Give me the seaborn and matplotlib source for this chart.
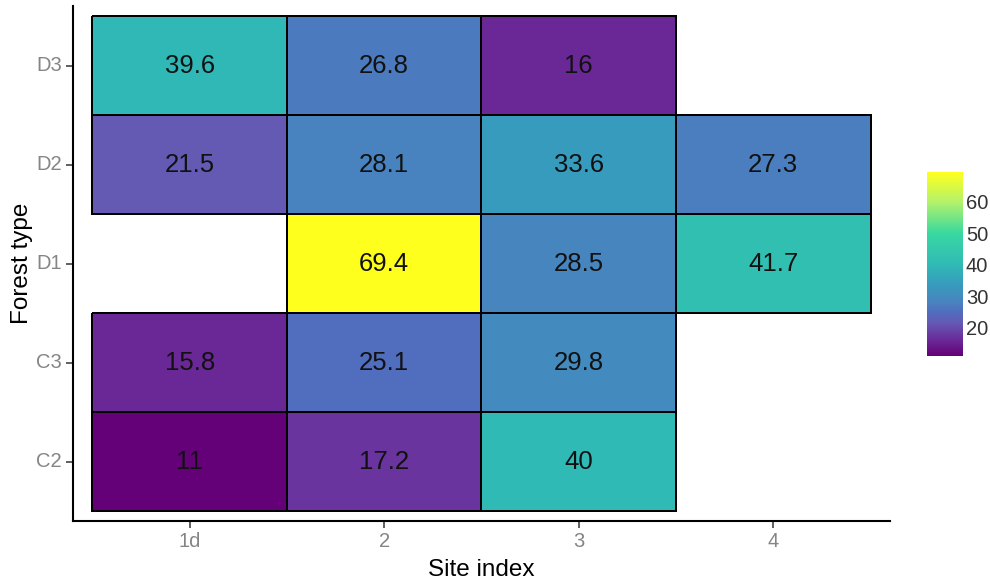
import numpy as np
import pandas as pd
import seaborn as sns
import matplotlib.pyplot as plt
from matplotlib.colors import LinearSegmentedColormap

sns.set_style("white")
plt.rcParams["font.family"] = ["Liberation Sans", "DejaVu Sans"]

# Site index categories (columns) and forest types (rows, top to bottom)
sites = ["1d", "2", "3", "4"]
forest_types = ["D3", "D2", "D1", "C3", "C2"]

# Values per forest type across site index; NaN = no observation
d3 = [39.6, 26.8, 16.0, np.nan]
d2 = [21.5, 28.1, 33.6, 27.3]
d1 = [np.nan, 69.4, 28.5, 41.7]
c3 = [15.8, 25.1, 29.8, np.nan]
c2 = [11.0, 17.2, 40.0, np.nan]

grid = pd.DataFrame([d3, d2, d1, c3, c2], index=forest_types, columns=sites)
labels = grid.map(lambda v: "" if pd.isna(v) else f"{v:g}")
vmin, vmax = np.nanmin(grid.values), np.nanmax(grid.values)

# Bright viridis-like palette
anchor_vals = [11, 16, 21.5, 25.1, 28.1, 33.6, 40, 50, 60, 69.4]
anchor_cols = ["#640078", "#6a2a98", "#645ab4", "#506ebe", "#4884bf",
               "#379bbe", "#30bab6", "#38d8a0", "#b4f26a", "#ffff1e"]
pos = [(v - vmin) / (vmax - vmin) for v in anchor_vals]
cmap = LinearSegmentedColormap.from_list("bright_viridis", list(zip(pos, anchor_cols)))

fig = plt.figure(figsize=(9.9, 5.81), dpi=100)
ax = fig.add_axes([0.0737, 0.1033, 0.8253, 0.886])
cax = fig.add_axes([0.9364, 0.3873, 0.0364, 0.3167])

sns.heatmap(
    grid, ax=ax, cbar_ax=cax, cmap=cmap, vmin=vmin, vmax=vmax,
    annot=labels, fmt="", annot_kws={"fontsize": 18.5, "color": "#111111"},
    linewidths=1.2, linecolor="black", square=False,
)

# Outline only the cells that hold a value
mesh = ax.collections[0]
valid = ~np.isnan(grid.values.ravel())
edge = np.zeros((valid.size, 4))
edge[valid, 3] = 1.0
mesh.set_edgecolors(edge)

# ggplot-style discrete expansion around the tiles
ax.set_xlim(-0.1, 4.1)
ax.set_ylim(5.1, -0.1)
for side in ("top", "right"):
    ax.spines[side].set_visible(False)
for side in ("left", "bottom"):
    ax.spines[side].set_visible(True)
    ax.spines[side].set_color("black")
    ax.spines[side].set_linewidth(1.5)

ax.tick_params(axis="both", which="both", length=5, width=1.1, color="#333333",
               labelsize=14.5, labelcolor="#858585", pad=3, bottom=True, left=True)
ax.set_yticklabels(forest_types, rotation=0)
ax.set_xticklabels(sites, rotation=0)
ax.set_xlabel("Site index", fontsize=17.5, color="black", labelpad=6)
ax.set_ylabel("Forest type", fontsize=17.5, color="black", labelpad=2)

# Colorbar styled like a ggplot legend bar
cbar = mesh.colorbar
cbar.outline.set_visible(False)
cbar.set_ticks([20, 30, 40, 50, 60])
cax.yaxis.set_ticks_position("both")
cax.tick_params(axis="y", which="both", direction="in", length=7, width=1.0,
                color="white", labelsize=14.5, labelcolor="#333333", pad=2,
                left=True, right=True, labelleft=False, labelright=True)

fig.savefig("out.png", dpi=100)
